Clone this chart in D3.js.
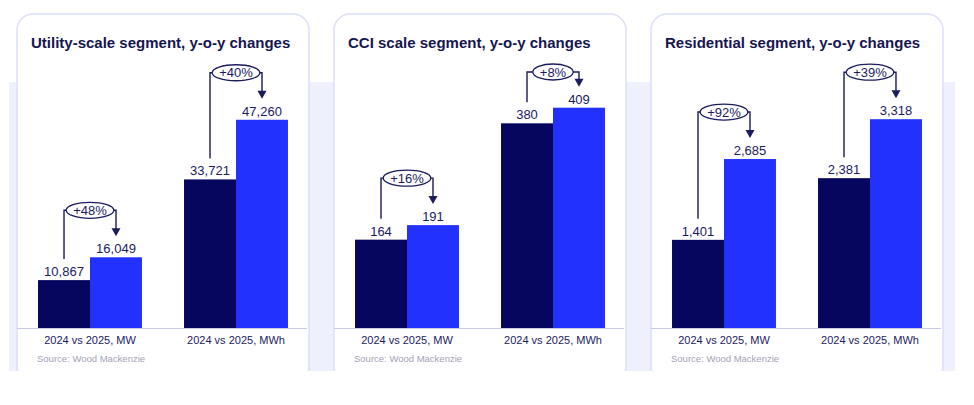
<!DOCTYPE html>
<html>
<head>
<meta charset="utf-8">
<script src="https://cdn.jsdelivr.net/npm/d3@7"></script>
<style>
  body { margin: 0; background: #fff; }
  text { font-family: "Liberation Sans", Arial, sans-serif; }
</style>
</head>
<body>
<div id="chart"></div>
<script>
// data
var panelTitles = ['Utility-scale segment, y-o-y changes', 'CCI scale segment, y-o-y changes', 'Residential segment, y-o-y changes'];
var categories = ['2024 vs 2025, MW', '2024 vs 2025, MWh'];
var seriesNames = ['2024', '2025'];
var values2024 = [[10867, 33721], [164, 380], [1401, 2381]];
var values2025 = [[16049, 47260], [191, 409], [2685, 3318]];
var changeLabels = [['+48%', '+40%'], ['+16%', '+8%'], ['+92%', '+39%']];
var yMax = [52200, 427, 3655];
var sourceText = 'Source: Wood Mackenzie';

var W = 974, H = 405;
var panelW = 292, panelTop = 14, panelBottom = 372, panelStep = 317, panelLeft = 17;
var baseY = 328, topY = 98;

var navy = '#1b1b5f';
var colors = ['#07065f', '#2331ff'];

var svg = d3.select('#chart').append('svg')
    .attr('width', W)
    .attr('height', H);

svg.append('defs').append('clipPath').attr('id', 'cut')
  .append('rect').attr('x', 0).attr('y', 0).attr('width', W).attr('height', 371);

var root = svg.append('g').attr('clip-path', 'url(#cut)');

// lavender band behind panels
root.append('rect')
    .attr('x', 9).attr('y', 82)
    .attr('width', 946).attr('height', 290)
    .attr('fill', '#eef0fc');

var y = d3.scaleLinear().range([baseY, topY]);

var x0 = d3.scaleBand()
    .domain(categories)
    .range([0, panelW])
    .paddingInner(0.288)
    .paddingOuter(0.144);

var x1 = d3.scaleBand()
    .domain(seriesNames)
    .range([0, x0.bandwidth()]);

panelTitles.forEach(function(title, p) {
    var g = root.append('g')
        .attr('transform', 'translate(' + (panelLeft + p * panelStep) + ',0)');

    g.append('rect')
        .attr('x', 0).attr('y', panelTop)
        .attr('width', panelW).attr('height', panelBottom - panelTop + 10)
        .attr('rx', 16)
        .attr('fill', '#fff')
        .attr('stroke', '#dcdffa')
        .attr('stroke-width', 1.5);

    g.append('text')
        .attr('x', 14).attr('y', 48)
        .attr('font-size', 15)
        .attr('font-weight', 'bold')
        .attr('fill', '#16164f')
        .text(title);

    y.domain([0, yMax[p]]);

    // baseline
    g.append('line')
        .attr('x1', 0).attr('x2', panelW - 2)
        .attr('y1', baseY + 0.5).attr('y2', baseY + 0.5)
        .attr('stroke', '#c8cbe6')
        .attr('stroke-width', 1);

    categories.forEach(function(cat, c) {
        var vals = [values2024[p][c], values2025[p][c]];
        var gx = x0(cat);

        var bars = g.append('g').attr('transform', 'translate(' + gx + ',0)');

        bars.selectAll('rect')
            .data(vals)
            .enter().append('rect')
            .attr('x', function(d, i) { return x1(seriesNames[i]); })
            .attr('y', function(d) { return y(d); })
            .attr('width', x1.bandwidth())
            .attr('height', function(d) { return baseY - y(d); })
            .attr('fill', function(d, i) { return colors[i]; });

        bars.selectAll('text.val')
            .data(vals)
            .enter().append('text')
            .attr('class', 'val')
            .attr('x', function(d, i) { return x1(seriesNames[i]) + x1.bandwidth() / 2; })
            .attr('y', function(d) { return y(d) - 4; })
            .attr('text-anchor', 'middle')
            .attr('font-size', 13)
            .attr('fill', navy)
            .text(function(d) { return d3.format(',')(d); });

        // change annotation: line up from 2024 label, ellipse, arrow down to 2025 label
        var cxA = x1(seriesNames[0]) + x1.bandwidth() / 2;
        var cxB = x1(seriesNames[1]) + x1.bandwidth() / 2;
        var ey = Math.max(72, y(vals[1]) - 47);
        var mid = (cxA + cxB) / 2;

        var pct = bars.append('text')
            .attr('x', mid).attr('y', ey)
            .attr('dy', '0.36em')
            .attr('text-anchor', 'middle')
            .attr('font-size', 13)
            .attr('fill', navy)
            .text(changeLabels[p][c]);

        var tw = pct.node().getComputedTextLength();
        var rx = Math.min((cxB - cxA) / 2, tw / 2 + 7);

        var tip = y(vals[1]) - 21;
        var path = d3.path();
        path.moveTo(cxA, y(vals[0]) - 21);
        path.lineTo(cxA, ey);
        path.lineTo(mid - rx, ey);
        path.moveTo(mid + rx, ey);
        path.lineTo(cxB, ey);
        path.lineTo(cxB, tip - 7);

        bars.insert('path', 'text.val')
            .attr('d', path.toString())
            .attr('fill', 'none')
            .attr('stroke', navy)
            .attr('stroke-width', 1.4);

        bars.append('ellipse')
            .attr('cx', mid).attr('cy', ey)
            .attr('rx', rx).attr('ry', 8)
            .attr('fill', 'none')
            .attr('stroke', navy)
            .attr('stroke-width', 1.3);

        bars.append('path')
            .attr('d', 'M' + (cxB - 4.5) + ',' + (tip - 8) + 'L' + (cxB + 4.5) + ',' + (tip - 8) + 'L' + cxB + ',' + tip + 'Z')
            .attr('fill', navy);

        g.append('text')
            .attr('x', gx + x0.bandwidth() / 2)
            .attr('y', 344)
            .attr('text-anchor', 'middle')
            .attr('font-size', 11)
            .attr('fill', navy)
            .text(cat);
    });

    g.append('text')
        .attr('x', 20).attr('y', 362)
        .attr('font-size', 9.5)
        .attr('fill', '#a2a3b8')
        .text(sourceText);
});
</script>
</body>
</html>
